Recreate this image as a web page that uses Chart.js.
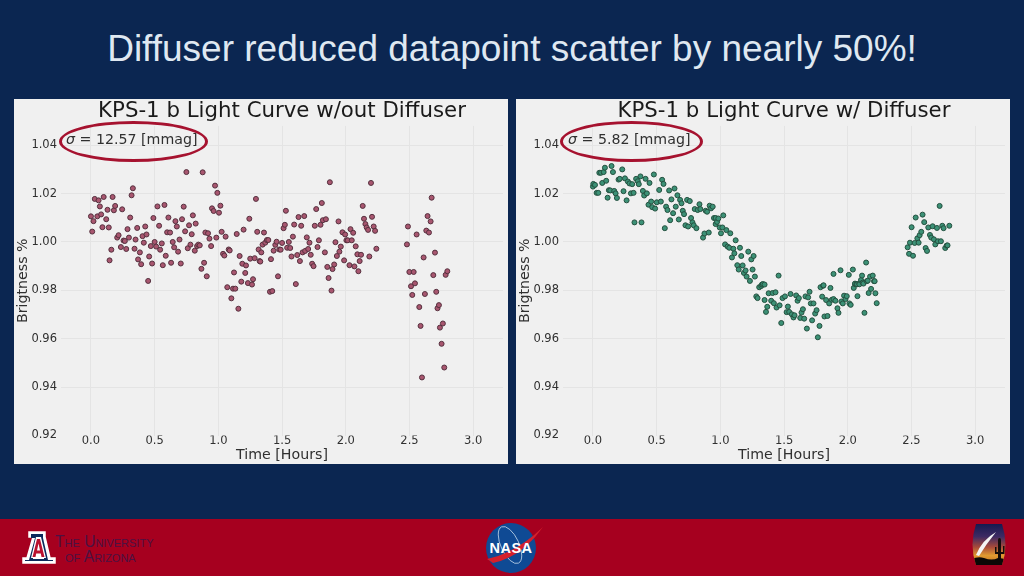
<!DOCTYPE html>
<html>
<head>
<meta charset="utf-8">
<script src="https://cdn.jsdelivr.net/npm/chart.js@4/dist/chart.umd.min.js"></script>
<style>
  html, body { margin: 0; padding: 0; }
  body { width: 1024px; height: 576px; background: #0b2651; position: relative; overflow: hidden; }
  h1 { position: absolute; left: 0; top: 26px; width: 1024px; margin: 0; text-align: center;
       font: 400 37px "Liberation Sans", sans-serif; line-height: 46px; color: #dfe8f1; }
  .panel { position: absolute; top: 99px; width: 494px; height: 365px; background: #f0f0f0; }
  .sigma { position: absolute; top: 130px; font: 14.2px "DejaVu Sans", sans-serif; color: #303030; line-height: 18px; white-space: nowrap; }
  .ring { position: absolute; top: 121px; height: 35px; border: 3px solid #a6122f; border-radius: 50%; }
  .band { position: absolute; left: 0; top: 519px; width: 1024px; height: 57px; background: #a6001f; }
  .logos { position: absolute; left: 0; top: 519px; }
</style>
</head>
<body>
<h1>Diffuser reduced datapoint scatter by nearly 50%!</h1>
<div class="panel" style="left:14px"><canvas id="leftChart" width="494" height="365"></canvas></div>
<div class="panel" style="left:516px"><canvas id="rightChart" width="494" height="365"></canvas></div>
<div class="ring" style="left:59px;width:143px"></div>
<div class="sigma" style="left:66px"><i>σ</i> = 12.57 [mmag]</div>
<div class="ring" style="left:560px;width:137px"></div>
<div class="sigma" style="left:568px"><i>σ</i> = 5.82 [mmag]</div>
<div class="band"></div>
<svg class="logos" width="1024" height="57" viewBox="0 519 1024 57">
  <defs>
    <linearGradient id="dusk" x1="0" y1="0" x2="0" y2="1">
      <stop offset="0" stop-color="#141a50"/>
      <stop offset="0.3" stop-color="#3d2a63"/>
      <stop offset="0.55" stop-color="#a84a3a"/>
      <stop offset="0.75" stop-color="#e09a30"/>
      <stop offset="1" stop-color="#c06a20"/>
    </linearGradient>
    <clipPath id="disc"><circle cx="511" cy="548" r="25"/></clipPath>
    <clipPath id="barrel"><path d="M976 524 H1002 Q1009 545 1002 565 H976 Q969 545 976 524 Z"/></clipPath>
  </defs>
  <!-- block A -->
  <path d="M29 532 H45 V537 L50 558 H55 V563 H23 V558 H27 L33 537 H29 Z" fill="#fff" stroke="#fff" stroke-width="1.5"/>
  <path d="M31 534 H43 V538 L48 560 H53 V561 H25 V560 H29 L35 538 H31 Z" fill="#0c2a5c"/>
  <path d="M36 537 H41 L46 558 H44 V559 H33 V558 H31 Z" fill="#fff"/>
  <path d="M37 539 H40 L44.5 557 H41.5 L40.8 553.5 H36.2 L35.5 557 H32.5 Z M38.5 543.5 L37 550.5 H40 Z" fill="#b8112f" fill-rule="evenodd"/>
  <g font-family="Liberation Sans, sans-serif" fill="#4c1242" style="font-variant:small-caps">
    <text x="55" y="547" font-size="15.6">The University</text>
    <text x="65" y="562" font-size="15.6">of Arizona</text>
  </g>
  <!-- NASA -->
  <circle cx="511" cy="548" r="25" fill="#0f4a94"/>
  <g clip-path="url(#disc)" fill="none" stroke="#cfe0f0" stroke-width="0.7"><ellipse cx="510" cy="545" rx="9" ry="20" transform="rotate(-25 510 545)"/></g>
  <path d="M487 559 Q516 553 543 527 Q522 557 493 563 Z" fill="#d4202c"/>
  <text x="511" y="553" text-anchor="middle" font-family="Liberation Sans, sans-serif" font-weight="700" font-size="14.5" fill="#fff" letter-spacing="0.5">NASA</text>
  <!-- barrel -->
  <g clip-path="url(#barrel)">
    <rect x="970" y="524" width="38" height="42" fill="url(#dusk)"/>
    <path d="M976 555 Q982 540 996 532 Q987 543 979 556 Z" fill="#f4f4f4"/>
    <path d="M998 560 V540 Q998 538 999.5 538 Q1001 538 1001 540 V552 H1003 V546 H1004.5 V554 H1001 V560 Z M998 554 H995 V547 H996.5 V552 H998 Z" fill="#140d0a"/>
    <path d="M970 566 V560 Q977 556 984 558 Q992 561 998 558 Q1004 558 1008 561 V566 Z" fill="#0b0806"/>
  </g>
</svg>

<script>
const xTicks = [0, 0.5, 1, 1.5, 2, 2.5, 3];
const yTicks = [0.92, 0.94, 0.96, 0.98, 1, 1.02, 1.04];

const leftHours = [0.00,0.01,0.02,0.03,0.06,0.05,0.08,0.07,0.10,0.12,0.09,0.14,0.13,0.17,0.18,0.19,0.245,0.16,0.146,0.206,0.217,0.235,0.256,0.266,0.277,0.298,0.287,0.308,0.319,0.329,0.342,0.35,0.363,0.37,0.384,0.394,0.405,0.415,0.426,0.436,0.449,0.457,0.47,0.48,0.49,0.50,0.512,0.522,0.535,0.543,0.556,0.564,0.577,0.587,0.598,0.608,0.621,0.629,0.642,0.653,0.663,0.674,0.684,0.695,0.705,0.715,0.728,0.739,0.749,0.76,0.77,0.781,0.791,0.80,0.815,0.822,0.833,0.843,0.854,0.867,0.877,0.888,0.898,0.909,0.919,0.93,0.943,0.95,0.963,0.974,0.984,0.992,1.005,1.016,1.026,1.037,1.047,1.057,1.07,1.081,1.089,1.102,1.115,1.123,1.133,1.144,1.157,1.167,1.18,1.188,1.198,1.211,1.217,1.232,1.243,1.25,1.264,1.272,1.285,1.295,1.305,1.316,1.324,1.329,1.337,1.347,1.358,1.368,1.381,1.392,1.405,1.413,1.423,1.434,1.447,1.457,1.468,1.478,1.489,1.5,1.512,1.522,1.53,1.54,1.553,1.564,1.574,1.585,1.595,1.608,1.619,1.629,1.64,1.65,1.661,1.674,1.681,1.694,1.705,1.715,1.725,1.736,1.747,1.757,1.768,1.778,1.789,1.802,1.812,1.82,1.836,1.844,1.855,1.865,1.875,1.888,1.896,1.909,1.919,1.93,1.943,1.95,1.961,1.974,1.987,1.995,2.005,2.016,2.029,2.037,2.047,2.058,2.068,2.078,2.091,2.099,2.109,2.12,2.133,2.143,2.154,2.164,2.175,2.185,2.198,2.206,2.219,2.23,2.24,2.48,2.488,2.499,2.512,2.522,2.533,2.543,2.556,2.577,2.587,2.598,2.611,2.621,2.632,2.642,2.653,2.666,2.674,2.687,2.7,2.71,2.72,2.731,2.739,2.752,2.762,2.773,2.784,2.797];
const leftBrightness = [1.0106,1.0043,1.0086,1.0178,1.0172,1.0106,1.0114,1.0147,1.0186,1.0094,1.0061,1.0060,1.0133,1.0186,1.0131,1.0149,1.0135,0.9968,0.9924,1.0018,1.0028,0.9979,1.0006,1.0004,0.9971,1.0018,1.0053,1.0101,1.0193,1.0222,0.9972,1.001,1.0058,0.9928,0.9957,0.9908,1.0024,0.9997,1.0064,1.0031,0.9839,0.994,0.9983,0.9911,1.0099,1.0,0.9981,1.0147,1.0067,0.9968,0.9994,0.9904,1.0153,0.9943,1.004,1.0101,1.0039,0.9914,1.0,0.9978,1.0086,1.0064,0.996,1.001,0.9911,1.0094,1.0146,1.0044,1.0289,0.9974,1.0069,0.9989,1.0032,1.011,0.9964,1.0076,0.9983,0.9989,0.9986,0.9889,1.0288,0.9914,1.0039,0.9858,1.0036,1.0014,0.9983,1.0139,1.0128,1.0233,1.0018,1.0203,1.0121,1.015,1.0042,0.9951,0.9944,1.0022,0.9813,0.9969,0.9965,0.9767,0.9807,0.9874,0.9807,1.0033,0.9724,0.9942,0.9836,0.991,1.0051,0.9872,0.9903,0.983,1.0096,0.9931,0.9824,0.9846,0.9933,1.0178,1.0042,0.9969,0.9921,0.9919,0.9957,0.9989,1.0039,0.9997,1.0008,1.0008,0.9794,0.9929,0.9797,0.9964,0.9988,1.0001,0.9858,0.9969,0.9968,0.9996,1.0057,1.0071,1.0129,0.9976,1.0,0.9975,0.994,1.0022,1.0072,0.9826,0.9946,1.0103,0.9921,1.0067,0.9957,1.0107,0.9963,1.0019,0.9971,0.9997,0.9947,0.991,0.99,1.0067,1.0136,0.9979,1.0007,1.0071,1.0161,1.009,0.9957,1.0094,0.9897,0.9851,1.0247,0.9799,0.9888,0.9907,0.9999,0.9942,1.0085,0.996,0.9981,1.004,0.9924,1.0031,1.0007,1.0007,0.9904,1.0053,1.0007,1.0038,0.9899,0.9982,0.9949,0.9879,0.9921,0.9947,1.0149,1.0096,1.0074,1.006,1.005,0.994,1.0244,1.0104,1.0064,1.0046,0.9972,0.999,1.0064,0.9876,0.9817,0.9781,0.9876,0.9829,1.0031,0.9731,0.9653,0.944,0.9936,0.9785,1.0047,1.0107,1.0039,1.0085,1.0183,0.9863,0.9956,0.9794,0.9726,0.9739,0.9646,0.9579,0.9663,0.9481,0.9864,0.9879];

const rightHours = [0.00,0.003,0.016,0.029,0.042,0.05,0.063,0.073,0.084,0.094,0.104,0.115,0.125,0.136,0.146,0.157,0.167,0.178,0.188,0.201,0.211,0.23,0.24,0.251,0.264,0.274,0.287,0.298,0.308,0.319,0.326,0.339,0.352,0.36,0.373,0.381,0.392,0.402,0.413,0.423,0.436,0.444,0.457,0.465,0.478,0.488,0.501,0.52,0.533,0.543,0.554,0.564,0.574,0.585,0.598,0.606,0.616,0.629,0.64,0.65,0.663,0.674,0.684,0.695,0.705,0.715,0.726,0.739,0.747,0.76,0.77,0.781,0.791,0.799,0.812,0.822,0.836,0.843,0.864,0.875,0.885,0.896,0.909,0.916,0.927,0.94,0.95,0.963,0.963,0.974,0.984,0.995,1.005,1.016,1.023,1.037,1.047,1.057,1.07,1.078,1.091,1.102,1.11,1.12,1.133,1.144,1.154,1.164,1.175,1.185,1.198,1.206,1.219,1.232,1.243,1.253,1.261,1.271,1.282,1.292,1.305,1.321,1.326,1.334,1.347,1.347,1.358,1.368,1.379,1.399,1.41,1.42,1.433,1.441,1.457,1.465,1.478,1.488,1.507,1.52,1.53,1.54,1.551,1.561,1.574,1.582,1.595,1.606,1.616,1.627,1.637,1.648,1.658,1.668,1.679,1.689,1.7,1.71,1.72,1.731,1.744,1.755,1.765,1.778,1.786,1.799,1.807,1.81,1.817,1.83,1.841,1.854,1.864,1.875,1.888,1.888,1.903,1.919,1.927,1.943,1.95,1.961,1.971,1.982,1.992,2.008,2.013,2.023,2.04,2.047,2.057,2.057,2.068,2.073,2.076,2.091,2.091,2.104,2.112,2.117,2.123,2.131,2.144,2.149,2.157,2.164,2.175,2.183,2.196,2.206,2.211,2.217,2.227,2.47,2.481,2.488,2.501,2.512,2.525,2.533,2.546,2.556,2.564,2.577,2.587,2.6,2.611,2.622,2.632,2.645,2.655,2.666,2.676,2.687,2.7,2.708,2.721,2.731,2.742,2.752,2.765,2.776,2.783,2.797];
const rightBrightness = [1.0229,1.024,1.0236,1.0203,1.0203,1.0286,1.0286,1.0244,1.0289,1.0307,1.0253,1.0183,1.0214,1.0213,1.0314,1.0289,1.0211,1.0201,1.0182,1.0258,1.0261,1.03,1.021,1.0263,1.0172,1.025,1.0242,1.0201,1.0239,1.0203,1.0081,1.0261,1.0251,1.0239,1.0271,1.0081,1.0211,1.0192,1.0261,1.0201,1.0154,1.0244,1.0167,1.0144,1.0279,1.0138,1.0164,1.0215,1.0167,1.0257,1.024,1.0057,1.0146,1.0132,1.0213,1.009,1.0176,1.0119,1.0221,1.0146,1.0193,1.0093,1.0174,1.016,1.0129,1.0115,1.0069,1.0174,1.0064,1.0169,1.0099,1.0081,1.0069,1.0136,1.0057,1.0132,1.0156,1.0136,1.0018,1.0035,1.0129,1.0125,1.0039,1.015,1.0139,1.0146,1.0099,1.0099,1.0074,1.0083,1.0097,1.006,1.0036,1.006,1.011,0.999,1.0049,0.9981,0.9976,1.0036,0.9936,0.9972,0.9953,1.0007,0.9904,0.9886,0.9976,0.9942,0.9903,0.9872,0.9882,0.9857,0.996,0.9839,0.9928,0.9886,0.9942,0.9857,0.9775,0.9768,0.9813,0.9818,0.9824,0.9826,0.976,0.9824,0.9711,0.9732,0.9788,0.9757,0.9789,0.9747,0.9792,0.9729,0.9861,0.9738,0.9665,0.9768,0.9775,0.971,0.9733,0.9711,0.9785,0.9701,0.9688,0.9697,0.9779,0.9757,0.9768,0.9686,0.9708,0.9722,0.9683,0.9775,0.9642,0.9771,0.9794,0.9746,0.9676,0.9746,0.9704,0.9718,0.9606,0.9653,0.9813,0.9774,0.9819,0.9821,0.9692,0.976,0.9694,0.9746,0.981,0.9761,0.9764,0.9868,0.9757,0.9726,0.9707,0.9883,0.9754,0.9746,0.9778,0.9764,0.9776,0.9864,0.9746,0.974,0.9886,0.981,0.9826,0.9828,0.9826,0.9825,0.9776,0.9828,0.9825,0.9843,0.9861,0.9832,0.9828,0.9707,0.9915,0.9838,0.984,0.9789,0.9857,0.9806,0.9861,0.9838,0.9838,0.9788,0.9747,0.9978,0.9951,0.9997,1.0061,0.9943,0.9996,1.0101,1.0015,0.9997,1.0028,1.0042,1.0113,1.0082,0.9975,0.9963,1.006,1.0029,1.0018,1.0065,1.0011,0.999,1.0058,1.0003,1.0149,1.0003,1.0067,1.0057,0.9975,0.9985,0.9986,1.0067];

const gridColor = '#e4e4e4';
const inkColor = '#303030';

function drawLightCurve(canvasId, titleText, hours, brightness, fill, edge) {
    new Chart(document.getElementById(canvasId), {
        type: 'scatter',
        data: {
            datasets: [{
                data: hours.map((h, i) => ({ x: h, y: brightness[i] })),
                backgroundColor: fill,
                borderColor: edge,
                borderWidth: 1,
                pointRadius: 2.5
            }]
        },
        options: {
            responsive: false,
            animation: false,
            layout: { padding: { top: 0, right: 4, left: 0, bottom: 0 } },
            plugins: {
                legend: { display: false },
                tooltip: { enabled: false },
                title: {
                    display: true,
                    fullSize: false,
                    text: titleText,
                    color: '#1a1a1a',
                    padding: { top: 0, bottom: 1.3 },
                    font: { family: "'DejaVu Sans'", size: 21.3, weight: 'normal' }
                }
            },
            scales: {
                x: {
                    type: 'linear',
                    min: -0.235,
                    max: 3.234,
                    afterBuildTicks: s => { s.ticks = xTicks.map(v => ({ value: v })); },
                    afterFit: s => { s.height = 28.5; },
                    border: { display: false },
                    grid: { color: gridColor, lineWidth: 1, drawTicks: false },
                    ticks: {
                        maxRotation: 0,
                        padding: -1.5,
                        color: inkColor,
                        font: { family: "'DejaVu Sans'", size: 11.5 },
                        callback: v => v.toFixed(1)
                    },
                    title: {
                        display: true,
                        text: 'Time [Hours]',
                        color: inkColor,
                        padding: 0,
                        font: { family: "'DejaVu Sans'", size: 14.2 }
                    }
                },
                y: {
                    type: 'linear',
                    min: 0.92,
                    max: 1.048,
                    afterBuildTicks: s => { s.ticks = yTicks.map(v => ({ value: v })); },
                    afterFit: s => { s.width = 47; },
                    border: { display: false },
                    grid: {
                        lineWidth: 1,
                        drawTicks: false,
                        color: c => c.tick && c.tick.value === 0.92 ? 'transparent' : gridColor
                    },
                    ticks: {
                        padding: 4,
                        color: inkColor,
                        font: { family: "'DejaVu Sans'", size: 11.5 },
                        callback: v => v.toFixed(2)
                    },
                    title: {
                        display: true,
                        text: 'Brigtness %',
                        color: inkColor,
                        padding: { top: 1, bottom: 0 },
                        font: { family: "'DejaVu Sans'", size: 14.2 }
                    }
                }
            }
        }
    });
}

drawLightCurve('leftChart', 'KPS-1 b Light Curve w/out Diffuser', leftHours, leftBrightness, '#a8566f', '#55303e');
drawLightCurve('rightChart', 'KPS-1 b Light Curve w/ Diffuser', rightHours, rightBrightness, '#3c9176', '#24503f');
</script>
</body>
</html>
